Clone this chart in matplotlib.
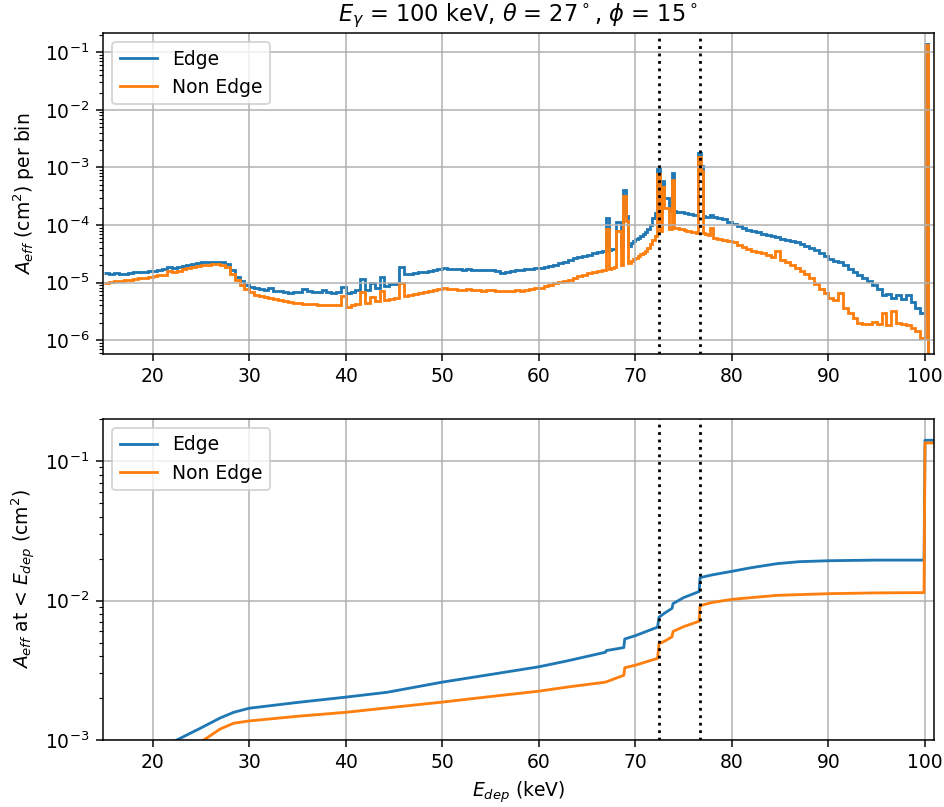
import matplotlib
matplotlib.use("Agg")
import matplotlib.pyplot as plt
import numpy as np

# bin edges (keV): 0.5 keV bins, 0.25 keV around the lines, photopeak bin at 100
edges = np.concatenate([np.arange(15.0, 66.5, 0.5),
                        np.arange(66.5, 78.0, 0.25),
                        np.arange(78.0, 100.0, 0.5),
                        [100.0, 100.3, 101.0]])

# A_eff per bin (cm^2), Edge events
edge_bins = [
    1.45e-5, 1.40e-5, 1.45e-5, 1.42e-5, 1.40e-5, 1.45e-5, 1.50e-5, 1.52e-5, 1.55e-5, 1.58e-5,  # 15-19.5
    1.60e-5, 1.65e-5, 1.70e-5, 1.90e-5, 1.80e-5, 1.90e-5, 1.95e-5, 2.05e-5, 2.10e-5, 2.20e-5,  # 20-24.5
    2.25e-5, 2.30e-5, 2.30e-5, 2.32e-5, 2.30e-5, 2.10e-5, 1.65e-5, 1.25e-5, 1.05e-5, 9.2e-6,   # 25-29.5
    8.4e-6, 8.0e-6, 7.6e-6, 7.4e-6, 8.0e-6, 7.2e-6, 7.0e-6, 6.8e-6, 6.7e-6, 6.8e-6,            # 30-34.5
    6.9e-6, 7.6e-6, 7.0e-6, 6.8e-6, 6.9e-6, 7.5e-6, 6.8e-6, 6.7e-6, 6.8e-6, 8.3e-6,            # 35-39.5
    6.7e-6, 6.9e-6, 7.5e-6, 1.15e-5, 7.5e-6, 1.0e-5, 8.0e-6, 1.26e-5, 8.8e-6, 9.3e-6,          # 40-44.5
    9.6e-6, 1.84e-5, 1.40e-5, 1.40e-5, 1.45e-5, 1.50e-5, 1.55e-5, 1.58e-5, 1.65e-5, 1.72e-5,   # 45-49.5
    1.77e-5, 1.75e-5, 1.72e-5, 1.70e-5, 1.68e-5, 1.70e-5, 1.66e-5, 1.68e-5, 1.65e-5, 1.68e-5,  # 50-54.5
    1.66e-5, 1.60e-5, 1.45e-5, 1.55e-5, 1.60e-5, 1.65e-5, 1.68e-5, 1.75e-5, 1.72e-5, 1.78e-5,  # 55-59.5
    1.82e-5, 1.88e-5, 1.95e-5, 2.05e-5, 2.15e-5, 2.30e-5, 2.50e-5, 2.65e-5, 2.80e-5, 2.95e-5,  # 60-64.5
    3.05e-5, 3.20e-5, 3.35e-5,                                                                  # 65-66
    3.50e-5, 3.60e-5, 1.30e-4, 3.70e-5, 3.80e-5, 3.90e-5, 1.14e-4, 1.14e-4,                    # 66.5-68.25
    4.10e-5, 4.00e-4, 1.44e-4, 4.40e-5, 4.80e-5, 5.20e-5, 5.60e-5, 6.00e-5,                    # 68.5-70.25
    6.50e-5, 7.00e-5, 7.70e-5, 8.50e-5, 1.00e-4, 1.30e-4, 1.60e-4, 9.40e-4,                    # 70.5-72.25
    1.70e-4, 5.90e-4, 3.00e-4, 3.00e-4, 1.72e-4, 7.90e-4, 1.72e-4, 1.70e-4,                    # 72.5-74.25
    1.68e-4, 1.65e-4, 1.62e-4, 1.60e-4, 1.58e-4, 1.55e-4, 1.52e-4, 1.50e-4,                    # 74.5-76.25
    1.78e-3, 1.05e-3, 1.45e-4, 1.40e-4, 1.38e-4, 1.50e-4,                                      # 76.5-77.75
    1.35e-4, 1.30e-4, 1.25e-4, 1.15e-4, 1.05e-4, 9.5e-5, 9.0e-5, 8.3e-5, 7.8e-5, 7.5e-5,       # 78-82.5
    7.1e-5, 6.7e-5, 6.4e-5, 6.3e-5, 5.8e-5, 5.5e-5, 5.2e-5, 5.0e-5, 4.6e-5, 4.3e-5,            # 83-87.5
    4.0e-5, 3.7e-5, 3.3e-5, 2.9e-5, 2.6e-5, 2.4e-5, 2.3e-5, 2.0e-5, 1.75e-5, 1.55e-5,          # 88-92.5
    1.35e-5, 1.2e-5, 1.05e-5, 9.0e-6, 7.8e-6, 6.0e-6, 6.3e-6, 5.3e-6, 6.2e-6, 5.2e-6,          # 93-97.5
    6.0e-6, 4.6e-6, 3.6e-6, 3.0e-6,                                                            # 98-99.5
    1.41e-1, 0.0,                                                                              # 100, 100.3
]

# A_eff per bin (cm^2), Non Edge events
nonedge_bins = [
    1.00e-5, 1.02e-5, 1.05e-5, 1.07e-5, 1.10e-5, 1.12e-5, 1.15e-5, 1.18e-5, 1.22e-5, 1.25e-5,  # 15-19.5
    1.28e-5, 1.33e-5, 1.38e-5, 1.60e-5, 1.50e-5, 1.60e-5, 1.70e-5, 1.78e-5, 1.85e-5, 1.95e-5,  # 20-24.5
    2.00e-5, 2.05e-5, 2.10e-5, 2.10e-5, 2.05e-5, 1.85e-5, 1.40e-5, 1.10e-5, 9.0e-6, 7.8e-6,    # 25-29.5
    6.8e-6, 6.2e-6, 5.8e-6, 5.6e-6, 5.5e-6, 5.2e-6, 5.0e-6, 4.8e-6, 4.6e-6, 4.5e-6,            # 30-34.5
    4.4e-6, 4.3e-6, 4.3e-6, 4.2e-6, 4.1e-6, 4.1e-6, 4.1e-6, 4.0e-6, 4.0e-6, 5.9e-6,            # 35-39.5
    3.8e-6, 4.0e-6, 4.3e-6, 6.8e-6, 4.5e-6, 5.6e-6, 4.8e-6, 7.2e-6, 5.0e-6, 5.2e-6,            # 40-44.5
    5.4e-6, 1.0e-5, 5.9e-6, 6.0e-6, 6.3e-6, 6.6e-6, 6.8e-6, 7.1e-6, 7.4e-6, 7.7e-6,            # 45-49.5
    7.9e-6, 7.8e-6, 7.6e-6, 7.5e-6, 7.4e-6, 7.6e-6, 7.3e-6, 7.4e-6, 7.2e-6, 7.4e-6,            # 50-54.5
    7.3e-6, 7.2e-6, 7.1e-6, 7.2e-6, 7.2e-6, 7.3e-6, 7.2e-6, 7.4e-6, 7.6e-6, 7.9e-6,            # 55-59.5
    8.1e-6, 8.6e-6, 9.1e-6, 9.7e-6, 1.03e-5, 1.08e-5, 1.13e-5, 1.20e-5, 1.30e-5, 1.38e-5,      # 60-64.5
    1.45e-5, 1.52e-5, 1.58e-5,                                                                  # 65-66
    1.64e-5, 1.68e-5, 8.50e-5, 1.75e-5, 1.80e-5, 1.90e-5, 7.90e-5, 7.90e-5,                    # 66.5-68.25
    2.05e-5, 3.20e-4, 1.18e-4, 2.20e-5, 2.35e-5, 2.55e-5, 2.70e-5, 2.90e-5,                    # 68.5-70.25
    3.10e-5, 3.30e-5, 3.50e-5, 4.00e-5, 4.60e-5, 5.50e-5, 6.50e-5, 7.60e-4,                    # 70.5-72.25
    7.80e-5, 4.50e-4, 2.00e-4, 2.00e-4, 8.60e-5, 6.00e-4, 8.80e-5, 8.70e-5,                    # 72.5-74.25
    8.60e-5, 8.40e-5, 8.20e-5, 8.00e-5, 7.80e-5, 7.60e-5, 7.50e-5, 7.40e-5,                    # 74.5-76.25
    1.50e-3, 8.70e-4, 7.20e-5, 7.00e-5, 6.80e-5, 8.80e-5,                                      # 76.5-77.75
    6.0e-5, 5.8e-5, 5.5e-5, 5.3e-5, 5.0e-5, 4.5e-5, 4.2e-5, 3.9e-5, 3.6e-5, 3.4e-5,            # 78-82.5
    3.2e-5, 3.0e-5, 2.8e-5, 3.5e-5, 2.5e-5, 2.3e-5, 2.05e-5, 1.8e-5, 1.6e-5, 1.4e-5,           # 83-87.5
    1.2e-5, 9.5e-6, 7.8e-6, 6.5e-6, 5.5e-6, 5.0e-6, 6.6e-6, 3.6e-6, 3.0e-6, 2.4e-6,            # 88-92.5
    2.0e-6, 1.9e-6, 1.9e-6, 2.1e-6, 1.9e-6, 3.0e-6, 1.8e-6, 3.2e-6, 2.0e-6, 1.9e-6,            # 93-97.5
    1.8e-6, 1.6e-6, 1.45e-6, 1.1e-6,                                                           # 98-99.5
    1.34e-1, 0.0,                                                                              # 100, 100.3
]

# cumulative A_eff below E_dep (cm^2)
cum_edge_x = [21.9, 22.5, 25.0, 27.0, 28.4, 30.0, 35.0, 40.0, 44.3, 50.0, 55.0, 60.0, 63.0,
              66.9, 67.0, 68.8, 68.9, 70.0, 72.3, 72.45, 73.0, 73.8, 73.9, 75.0, 76.6, 76.7,
              78.0, 80.0, 82.0, 84.7, 87.0, 90.0, 95.0, 99.9, 100.0, 101.0]
cum_edge_y = [9.5e-4, 1.0e-3, 1.22e-3, 1.44e-3, 1.58e-3, 1.69e-3, 1.86e-3, 2.03e-3, 2.2e-3,
              2.6e-3, 2.95e-3, 3.35e-3, 3.7e-3, 4.26e-3, 4.38e-3, 4.6e-3, 5.3e-3, 5.6e-3,
              6.45e-3, 7.6e-3, 8.1e-3, 8.8e-3, 9.5e-3, 1.05e-2, 1.16e-2, 1.46e-2, 1.53e-2,
              1.62e-2, 1.72e-2, 1.84e-2, 1.9e-2, 1.93e-2, 1.95e-2, 1.95e-2, 1.41e-1, 1.41e-1]
cum_nonedge_x = [24.7, 25.3, 27.0, 28.4, 30.0, 35.0, 40.0, 45.0, 50.0, 55.0, 60.0, 63.0, 66.9,
                 68.8, 68.9, 70.0, 72.3, 72.45, 73.0, 73.8, 73.9, 75.0, 76.6, 76.7, 78.0, 80.0,
                 84.7, 90.0, 95.0, 99.9, 100.0, 101.0]
cum_nonedge_y = [9.5e-4, 1.0e-3, 1.2e-3, 1.32e-3, 1.37e-3, 1.48e-3, 1.58e-3, 1.72e-3, 1.87e-3,
                 2.05e-3, 2.24e-3, 2.4e-3, 2.6e-3, 2.91e-3, 3.3e-3, 3.44e-3, 3.85e-3, 4.9e-3,
                 5.1e-3, 5.5e-3, 6.0e-3, 6.5e-3, 7.1e-3, 9.2e-3, 9.7e-3, 1.02e-2, 1.09e-2,
                 1.12e-2, 1.135e-2, 1.14e-2, 1.35e-1, 1.35e-1]

lines_kev = [72.4, 76.7]

fig, (ax1, ax2) = plt.subplots(2, 1, figsize=(944 / 135, 807 / 135), dpi=135)
fig.subplots_adjust(left=0.1088, right=0.9894, top=0.9595, bottom=0.083, hspace=0.2)

# top: per-bin effective area
ax1.stairs(edge_bins, edges, baseline=None, color='C0', lw=1.5, label='Edge')
ax1.stairs(nonedge_bins, edges, baseline=None, color='C1', lw=1.5, label='Non Edge')
ax1.set_yscale('log')
ax1.set_xlim(14.83, 100.93)
ax1.set_ylim(5.7e-7, 0.219)
for e in lines_kev:
    ax1.axvline(e, color='k', ls=':')
ax1.grid(True)
ax1.legend(loc='upper left')
ax1.set_ylabel('$A_{eff}$ (cm$^2$) per bin')
ax1.set_title(r'$E_{\gamma}$ = 100 keV, $\theta$ = 27$^\circ$, $\phi$ = 15$^\circ$')

# bottom: cumulative effective area
ax2.plot(cum_edge_x, cum_edge_y, color='C0', label='Edge')
ax2.plot(cum_nonedge_x, cum_nonedge_y, color='C1', label='Non Edge')
ax2.set_yscale('log')
ax2.set_xlim(14.83, 100.93)
ax2.set_ylim(1e-3, 0.202)
for e in lines_kev:
    ax2.axvline(e, color='k', ls=':')
ax2.grid(True)
ax2.legend(loc='upper left')
ax2.set_ylabel('$A_{eff}$ at < $E_{dep}$ (cm$^2$)')
ax2.set_xlabel('$E_{dep}$ (keV)')

fig.savefig('out.png', dpi=135)
